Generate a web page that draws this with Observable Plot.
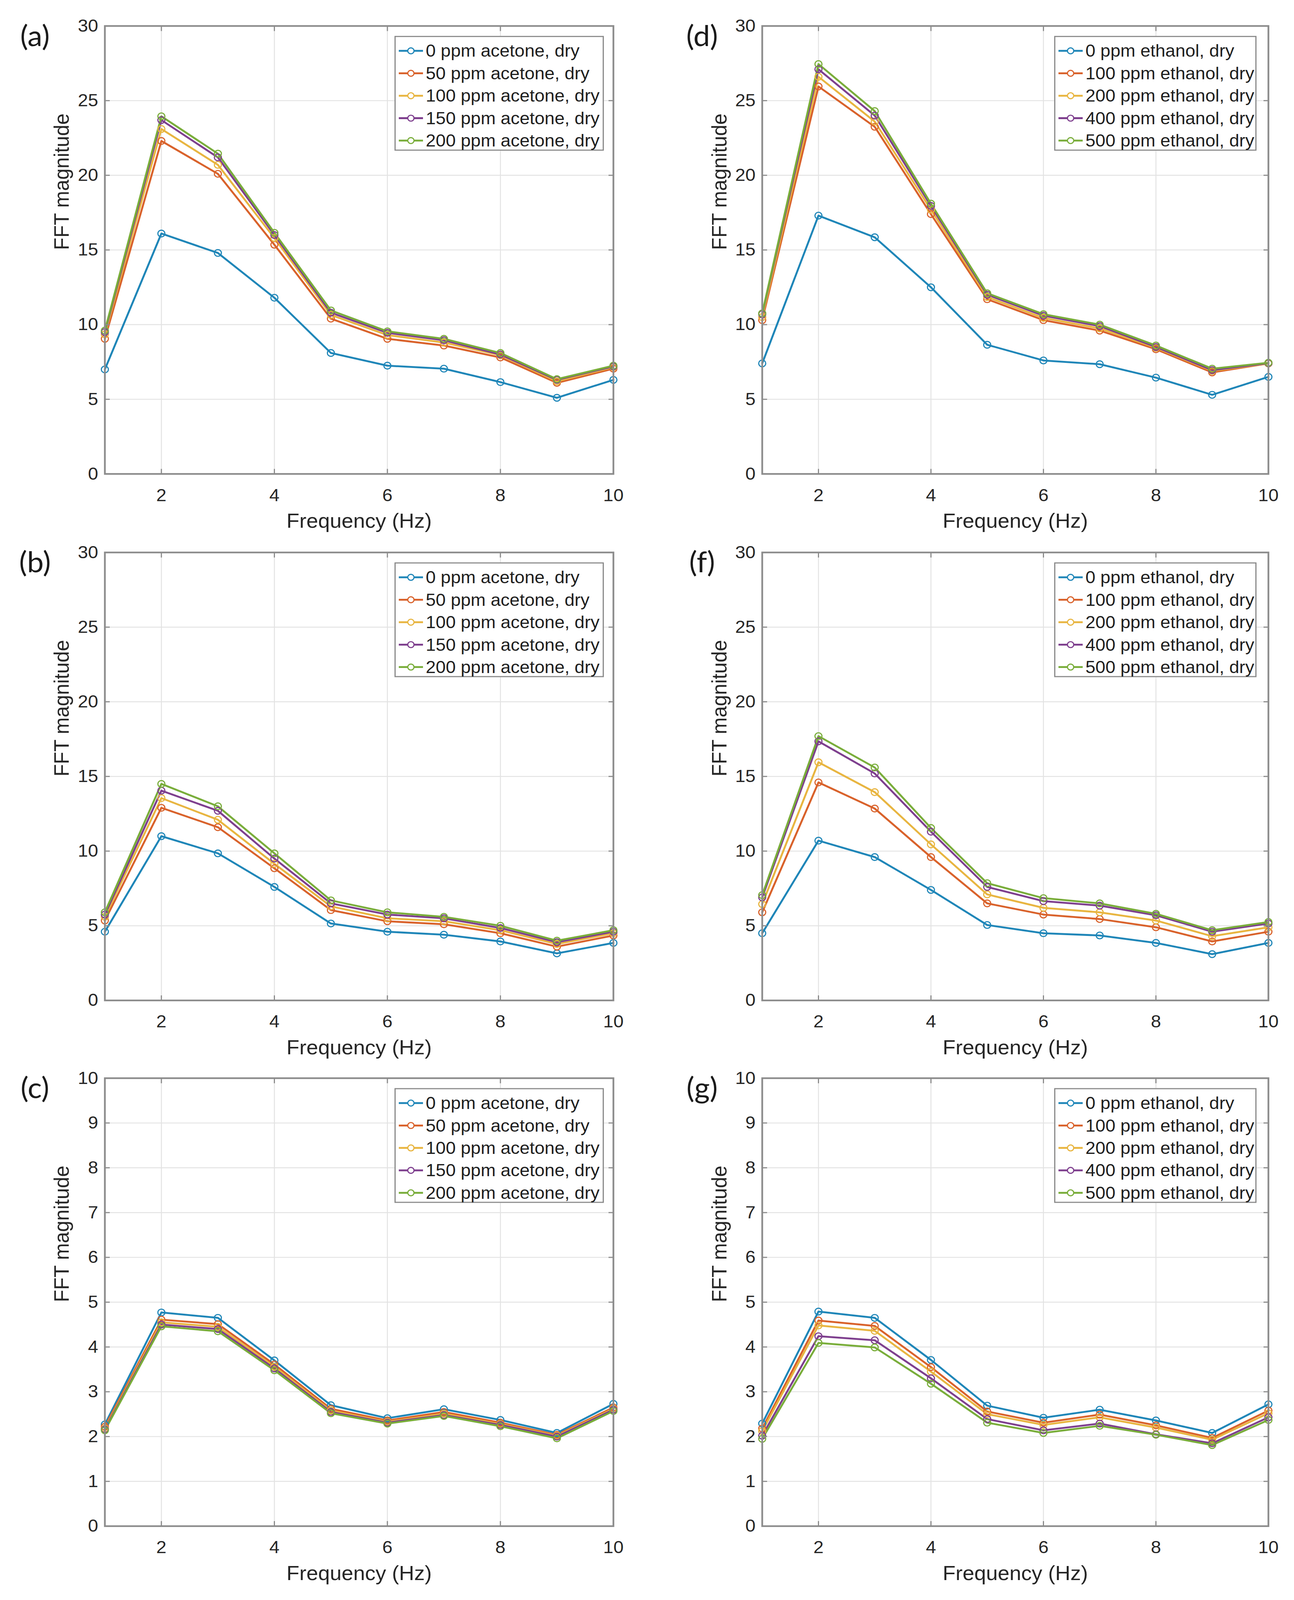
<!DOCTYPE html>
<html><head><meta charset="utf-8">
<script src="https://cdn.jsdelivr.net/npm/d3@7"></script>
<script src="https://cdn.jsdelivr.net/npm/@observablehq/plot@0.6"></script>
<style>
html,body{margin:0;padding:0;background:#fff;overflow:hidden;}
#fig{position:relative;width:3313px;height:4279px;background:#fff;overflow:hidden;transform-origin:0 0;}
.panel{position:absolute;width:1656px;height:1408px;}
.panel > svg{position:absolute;left:0;top:0;}
.legend{position:absolute;background:#fff;border:3.5px solid #8a8a8a;box-sizing:border-box;font-family:"Liberation Sans",Arial,sans-serif;font-size:46px;color:#1e1e1e;padding-top:7px;}
.legend .row{height:60px;display:flex;align-items:center;white-space:nowrap;}
.legend .row svg{position:static;margin-left:8px;margin-right:7px;flex:none;}
</style></head><body><div id="fig"></div>
<script>
const freq = [1, 2, 3, 4, 5, 6, 7, 8, 9, 10];
const xTicks = [2, 4, 6, 8, 10];
const yTicks30 = [0, 5, 10, 15, 20, 25, 30];
const yTicks10 = [0, 1, 2, 3, 4, 5, 6, 7, 8, 9, 10];
const acetoneSeries = ["0 ppm acetone, dry", "50 ppm acetone, dry", "100 ppm acetone, dry", "150 ppm acetone, dry", "200 ppm acetone, dry"];
const ethanolSeries = ["0 ppm ethanol, dry", "100 ppm ethanol, dry", "200 ppm ethanol, dry", "400 ppm ethanol, dry", "500 ppm ethanol, dry"];
const seriesColors = ["#1f86b8", "#d9622b", "#e8b540", "#7e3f8e", "#79ad3a"];

const panelA = [
  [7.0, 16.1, 14.8, 11.8, 8.1, 7.25, 7.05, 6.15, 5.1, 6.3],
  [9.05, 22.3, 20.1, 15.35, 10.4, 9.05, 8.6, 7.8, 6.1, 7.05],
  [9.35, 23.1, 20.7, 15.8, 10.65, 9.3, 8.8, 7.95, 6.2, 7.15],
  [9.5, 23.7, 21.2, 16.0, 10.8, 9.45, 8.95, 8.0, 6.3, 7.2],
  [9.6, 23.95, 21.45, 16.15, 10.95, 9.55, 9.05, 8.1, 6.35, 7.25]
];
const panelD = [
  [7.4, 17.3, 15.85, 12.5, 8.65, 7.6, 7.35, 6.45, 5.3, 6.5],
  [10.3, 25.95, 23.25, 17.4, 11.7, 10.3, 9.6, 8.35, 6.8, 7.4],
  [10.5, 26.6, 23.6, 17.7, 11.85, 10.45, 9.75, 8.45, 6.9, 7.4],
  [10.7, 27.1, 24.0, 17.95, 12.0, 10.6, 9.9, 8.5, 6.95, 7.42],
  [10.75, 27.45, 24.3, 18.1, 12.1, 10.7, 10.0, 8.6, 7.05, 7.45]
];
const panelB = [
  [4.6, 11.0, 9.85, 7.6, 5.15, 4.6, 4.4, 3.95, 3.15, 3.85],
  [5.35, 12.9, 11.6, 8.85, 6.05, 5.3, 5.1, 4.5, 3.6, 4.35],
  [5.6, 13.55, 12.1, 9.15, 6.3, 5.5, 5.3, 4.7, 3.78, 4.5],
  [5.75, 14.05, 12.7, 9.5, 6.5, 5.75, 5.5, 4.85, 3.9, 4.6],
  [5.9, 14.5, 13.0, 9.85, 6.7, 5.9, 5.6, 5.0, 4.0, 4.7]
];
const panelF = [
  [4.5, 10.7, 9.6, 7.4, 5.05, 4.5, 4.35, 3.85, 3.1, 3.85],
  [5.9, 14.6, 12.85, 9.6, 6.5, 5.75, 5.45, 4.9, 3.95, 4.6],
  [6.45, 15.95, 13.95, 10.45, 7.1, 6.2, 5.9, 5.35, 4.3, 4.9],
  [6.9, 17.35, 15.2, 11.3, 7.6, 6.65, 6.35, 5.7, 4.6, 5.15],
  [7.05, 17.7, 15.6, 11.55, 7.85, 6.85, 6.5, 5.8, 4.7, 5.25]
];
const panelC = [
  [2.27, 4.77, 4.65, 3.7, 2.7, 2.41, 2.61, 2.37, 2.08, 2.73],
  [2.22, 4.61, 4.51, 3.61, 2.62, 2.36, 2.55, 2.31, 2.04, 2.65],
  [2.18, 4.55, 4.45, 3.56, 2.58, 2.33, 2.51, 2.28, 2.02, 2.62],
  [2.16, 4.5, 4.4, 3.52, 2.55, 2.31, 2.48, 2.26, 2.0, 2.6],
  [2.14, 4.46, 4.35, 3.48, 2.52, 2.29, 2.46, 2.23, 1.96, 2.57]
];
const panelG = [
  [2.29, 4.79, 4.65, 3.71, 2.69, 2.42, 2.6, 2.36, 2.08, 2.72],
  [2.18, 4.59, 4.47, 3.55, 2.56, 2.31, 2.49, 2.25, 1.97, 2.58],
  [2.12, 4.48, 4.36, 3.45, 2.5, 2.26, 2.43, 2.2, 1.93, 2.52],
  [2.02, 4.24, 4.15, 3.3, 2.39, 2.14, 2.29, 2.05, 1.85, 2.43],
  [1.95, 4.09, 3.99, 3.18, 2.31, 2.08, 2.24, 2.04, 1.81, 2.37]
];

const xLabel = "Frequency (Hz)";
const yLabel = "FFT magnitude";

const panels = [
  {id: "a", values: panelA, names: acetoneSeries, yMax: 30, yTicks: yTicks30, col: 0, row: 0},
  {id: "d", values: panelD, names: ethanolSeries, yMax: 30, yTicks: yTicks30, col: 1, row: 0},
  {id: "b", values: panelB, names: acetoneSeries, yMax: 30, yTicks: yTicks30, col: 0, row: 1},
  {id: "f", values: panelF, names: ethanolSeries, yMax: 30, yTicks: yTicks30, col: 1, row: 1},
  {id: "c", values: panelC, names: acetoneSeries, yMax: 10, yTicks: yTicks10, col: 0, row: 2},
  {id: "g", values: panelG, names: ethanolSeries, yMax: 10, yTicks: yTicks10, col: 1, row: 2}
];

const colX = [0, 1656];
const rowY = [0, 1408, 2814];
const colLayout = [
  {left: 268, right: 86, labelX: 89, yLabX: 158, legendLeft: 1010, legendWidth: 536},
  {left: 295, right: 65, labelX: 141, yLabX: 186, legendLeft: 1043, legendWidth: 518}
];
const axisColor = "#8c8c8c";
const textColor = "#262626";
const font = "'Liberation Sans', Arial, Helvetica, sans-serif";
const fmt = d => String(d);

const fig = document.getElementById("fig");

for (const p of panels) {
  const L = colLayout[p.col];
  const data = p.names.flatMap((name, si) => freq.map((f, i) => ({series: name, f, v: p.values[si][i]})));
  const chart = Plot.plot({
    width: 1656,
    height: 1408,
    marginLeft: L.left,
    marginRight: L.right,
    marginTop: 69,
    marginBottom: 141,
    style: {background: "transparent", fontFamily: font, color: textColor, overflow: "visible"},
    x: {domain: [1, 10], label: null},
    y: {domain: [0, p.yMax], label: null},
    color: {domain: p.names, range: seriesColors},
    marks: [
      Plot.gridX(xTicks, {stroke: "#e3e3e3", strokeOpacity: 1, strokeWidth: 2.5}),
      Plot.gridY(p.yTicks, {stroke: "#e3e3e3", strokeOpacity: 1, strokeWidth: 2.5}),
      Plot.line(data, {x: "f", y: "v", z: "series", stroke: "series", strokeWidth: 5}),
      Plot.dot(data, {x: "f", y: "v", stroke: "series", r: 9, strokeWidth: 3, fill: "none"}),
      Plot.frame({stroke: axisColor, strokeWidth: 4.5}),
      Plot.axisX(xTicks, {anchor: "bottom", tickSize: -13, tickPadding: 52, tickFormat: fmt, stroke: axisColor, strokeWidth: 3, fill: textColor, fontSize: 47, label: null}),
      Plot.axisX(xTicks, {anchor: "top", tickSize: -13, stroke: axisColor, strokeWidth: 3, fill: "none", label: null}),
      Plot.axisY(p.yTicks, {anchor: "left", tickSize: -13, tickPadding: 30, tickFormat: fmt, stroke: axisColor, strokeWidth: 3, fill: textColor, fontSize: 47, label: null}),
      Plot.axisY(p.yTicks, {anchor: "right", tickSize: -13, stroke: axisColor, strokeWidth: 3, fill: "none", label: null}),
      Plot.text([xLabel], {text: d => d, frameAnchor: "bottom", dy: 127, fontSize: 54, fill: textColor, lineAnchor: "middle"}),
      Plot.text([yLabel], {text: d => d, frameAnchor: "left", dx: -(L.left - L.yLabX), rotate: -90, fontSize: 54, fill: textColor, lineAnchor: "middle"}),
      Plot.text([`(${p.id})`], {text: d => d, frameAnchor: "top-left", dx: L.labelX - L.left, dy: 29, fontSize: 76, fontFamily: "Lato, 'Open Sans', sans-serif", fill: "#1a1a1a", textAnchor: "middle", lineAnchor: "middle"})
    ]
  });

  const panel = document.createElement("div");
  panel.className = "panel";
  panel.style.left = colX[p.col] + "px";
  panel.style.top = rowY[p.row] + "px";
  panel.appendChild(chart);

  const legend = document.createElement("div");
  legend.className = "legend";
  legend.style.left = L.legendLeft + "px";
  legend.style.top = (69 + 27) + "px";
  legend.style.width = L.legendWidth + "px";
  legend.style.height = "307px";
  p.names.forEach((name, i) => {
    const row = document.createElement("div");
    row.className = "row";
    const c = seriesColors[i];
    row.innerHTML = `<svg width="62" height="24" viewBox="0 0 62 24"><line x1="0" x2="62" y1="12" y2="12" stroke="${c}" stroke-width="5"/><circle cx="31" cy="12" r="8" fill="#fff" stroke="${c}" stroke-width="3"/></svg><span>${name}</span>`;
    legend.appendChild(row);
  });
  panel.appendChild(legend);
  fig.appendChild(panel);
}

// fit the full figure height into the visible viewport if it is shorter than the figure
const vh = Math.min(window.innerHeight || 4279, document.documentElement.clientHeight || 4279);
if (vh > 0 && vh < 4279) fig.style.transform = `scale(1, ${vh / 4279})`;
</script>
</body></html>
